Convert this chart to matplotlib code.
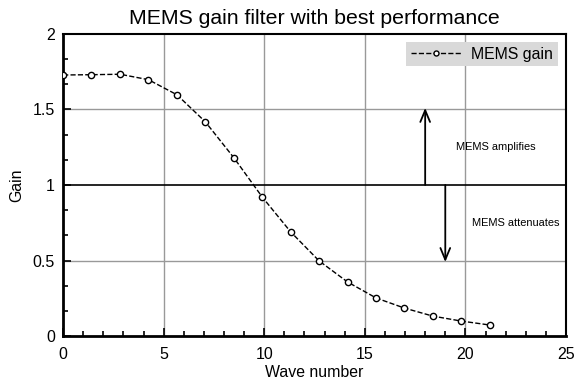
import numpy as np
import matplotlib
matplotlib.use("Agg")
import matplotlib.pyplot as plt
from matplotlib.ticker import MultipleLocator

plt.rcParams['font.family'] = ['Liberation Sans', 'DejaVu Sans']

# data
wave_number = [0.0, 1.41, 2.83, 4.24, 5.66, 7.07, 8.49, 9.90,
               11.31, 12.73, 14.14, 15.56, 16.97, 18.38, 19.80, 21.21]
mems_gain = [1.728, 1.730, 1.733, 1.697, 1.597, 1.418, 1.180, 0.920,
             0.690, 0.497, 0.358, 0.252, 0.185, 0.132, 0.099, 0.073]

fig = plt.figure(figsize=(5.74, 3.81), dpi=100)
ax = fig.add_axes([0.110, 0.118, 0.876, 0.793])

# grid
for xv in [5, 10, 15, 20]:
    ax.axvline(xv, color='#999999', lw=1.0, zorder=0)
for yv in [0.5, 1.5]:
    ax.axhline(yv, color='#999999', lw=1.0, zorder=0)
ax.axhline(1.0, color='black', lw=1.2, zorder=1)

ax.plot(wave_number, mems_gain, ls='--', color='black', lw=1.0,
        marker='o', ms=4.5, mfc='white', mec='black', mew=1.0,
        label='MEMS gain', zorder=3)

# arrows
arrow_kw = dict(arrowstyle='->,head_length=0.6,head_width=0.25',
                color='black', lw=1.3, shrinkA=0, shrinkB=0,
                mutation_scale=14)
ax.annotate('', xy=(18, 1.51), xytext=(18, 1.0), arrowprops=arrow_kw)
ax.annotate('', xy=(19, 0.49), xytext=(19, 1.0), arrowprops=arrow_kw)
ax.text(21.5, 1.25, 'MEMS amplifies', fontsize=7.9, ha='center', va='center')
ax.text(22.5, 0.75, 'MEMS attenuates', fontsize=7.9, ha='center', va='center')

ax.set_xlim(0, 25)
ax.set_ylim(0, 2)
ax.xaxis.set_major_locator(MultipleLocator(5))
ax.xaxis.set_minor_locator(MultipleLocator(1))
ax.yaxis.set_minor_locator(MultipleLocator(0.5 / 3))
ax.set_yticks([0, 0.5, 1, 1.5, 2])
ax.set_yticklabels(['0', '0.5', '1', '1.5', '2'])
ax.tick_params(which='both', direction='in', top=False, right=False,
               labelsize=11.5, width=1.2)
ax.tick_params(which='major', length=6)
ax.tick_params(which='minor', length=3.5)
ax.tick_params(axis='x', which='major', pad=8)
ax.tick_params(axis='y', which='major', pad=6)

ax.spines['left'].set_linewidth(2.0)
ax.spines['bottom'].set_linewidth(2.0)
ax.spines['top'].set_linewidth(1.5)
ax.spines['right'].set_linewidth(1.5)

ax.set_xlabel('Wave number', fontsize=11.4, labelpad=2)
ax.set_ylabel('Gain', fontsize=11.4, labelpad=6)
ax.set_title('MEMS gain filter with best performance', fontsize=15.3, pad=7)

leg = ax.legend(loc='upper right', fontsize=11.4, frameon=True, fancybox=False,
                borderpad=0.3, handlelength=3.2, markerscale=0.8,
                handletextpad=0.6, borderaxespad=0,
                bbox_to_anchor=(0.984, 0.974))
leg.get_frame().set_facecolor('#d9d9d9')
leg.get_frame().set_edgecolor('none')
leg.get_frame().set_alpha(1)

fig.savefig('out.png', dpi=100)
